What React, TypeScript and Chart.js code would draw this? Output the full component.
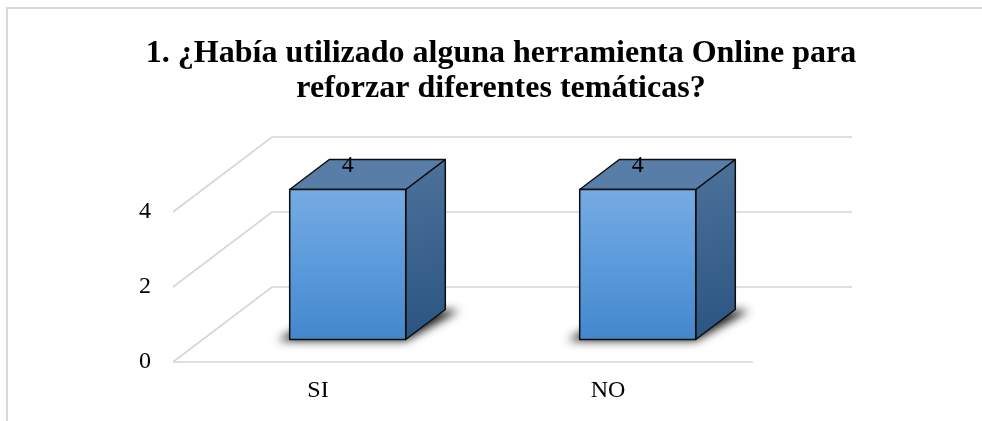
import React, { useEffect, useRef } from "react";
import { Chart, registerables } from "chart.js";

Chart.register(...registerables);

// Survey answers
const categories = ["SI", "NO"];
const answerCounts = [4, 4];
const yTicks = [0, 2, 4];
const titleLines = [
  "1. ¿Había utilizado alguna herramienta Online para",
  "reforzar diferentes temáticas?",
];

const SERIF = "'Liberation Serif', 'Times New Roman', serif";

// 3D look: how far the back wall sits behind the front plane
const DEPTH_X = 99;
const DEPTH_Y = 75;
const BAR_FRONT = 0.3; // fraction of depth where bar front face sits
const BAR_BACK = 0.7; // fraction of depth where bar back face sits
const GRID_COLOR = "#d6d6d6";

const box3d = {
  id: "box3d",
  beforeDatasetsDraw(chart: any) {
    const { ctx, chartArea } = chart;
    const y = chart.scales.y;
    const left = chartArea.left;
    const right = chartArea.right;
    ctx.save();
    ctx.strokeStyle = GRID_COLOR;
    ctx.lineWidth = 1.6;
    // left wall diagonals + back wall horizontals
    for (const v of yTicks) {
      const py = y.getPixelForValue(v);
      ctx.beginPath();
      ctx.moveTo(left, py);
      ctx.lineTo(left + DEPTH_X, py - DEPTH_Y);
      ctx.lineTo(right + DEPTH_X, py - DEPTH_Y);
      ctx.stroke();
    }
    // front floor edge
    const p0 = y.getPixelForValue(0);
    ctx.beginPath();
    ctx.moveTo(left, p0);
    ctx.lineTo(right, p0);
    ctx.stroke();
    ctx.restore();
  },
  afterDatasetsDraw(chart: any) {
    const { ctx } = chart;
    const meta = chart.getDatasetMeta(0);
    const values = chart.data.datasets[0].data;
    const fx = DEPTH_X * BAR_FRONT;
    const fy = DEPTH_Y * BAR_FRONT;
    const dx = DEPTH_X * (BAR_BACK - BAR_FRONT);
    const dy = DEPTH_Y * (BAR_BACK - BAR_FRONT);
    meta.data.forEach((bar: any, i: number) => {
      const { x, y, base, width } = bar.getProps(["x", "y", "base", "width"], true);
      const l = x - width / 2 + fx;
      const r = x + width / 2 + fx;
      const t = y - fy;
      const b = base - fy;

      // soft floor shadow: shape drawn off-canvas, only its blurred shadow lands here
      const off = 3000;
      ctx.save();
      ctx.shadowColor = "rgba(0,0,0,0.9)";
      ctx.shadowBlur = 10;
      ctx.shadowOffsetX = off;
      ctx.fillStyle = "#000";
      ctx.beginPath();
      ctx.moveTo(l - 12 - off, b + 1);
      ctx.lineTo(r - off, b + 1);
      ctx.lineTo(r + dx + 14 - off, b - dy + 1);
      ctx.lineTo(l + dx - off, b - dy);
      ctx.closePath();
      ctx.fill();
      ctx.restore();

      ctx.save();
      ctx.lineJoin = "round";
      ctx.strokeStyle = "#0d0d0d";
      ctx.lineWidth = 1.5;

      // side face
      const sg = ctx.createLinearGradient(r, t - dy, r + dx, b);
      sg.addColorStop(0, "#4d729b");
      sg.addColorStop(1, "#2a5481");
      ctx.fillStyle = sg;
      ctx.beginPath();
      ctx.moveTo(r, t);
      ctx.lineTo(r + dx, t - dy);
      ctx.lineTo(r + dx, b - dy);
      ctx.lineTo(r, b);
      ctx.closePath();
      ctx.fill();
      ctx.stroke();

      // top face
      ctx.fillStyle = "#587ea7";
      ctx.beginPath();
      ctx.moveTo(l, t);
      ctx.lineTo(l + dx, t - dy);
      ctx.lineTo(r + dx, t - dy);
      ctx.lineTo(r, t);
      ctx.closePath();
      ctx.fill();
      ctx.stroke();

      // front face
      const fg = ctx.createLinearGradient(0, t, 0, b);
      fg.addColorStop(0, "#76abe1");
      fg.addColorStop(0.5, "#5b9bdc");
      fg.addColorStop(1, "#4487cc");
      ctx.fillStyle = fg;
      ctx.beginPath();
      ctx.rect(l, t, r - l, b - t);
      ctx.fill();
      ctx.stroke();

      // value label
      ctx.fillStyle = "#000";
      ctx.font = `24px ${SERIF}`;
      ctx.textAlign = "center";
      ctx.textBaseline = "middle";
      ctx.fillText(String(values[i]), (l + r) / 2, t - 24);
      ctx.restore();
    });
  },
};

export default function App() {
  const ref = useRef<HTMLCanvasElement | null>(null);

  useEffect(() => {
    document.body.style.margin = "0";
    const chart = new Chart(ref.current as HTMLCanvasElement, {
      type: "bar",
      data: {
        labels: categories,
        datasets: [
          {
            data: answerCounts,
            backgroundColor: "rgba(0,0,0,0)",
            borderWidth: 0,
            categoryPercentage: 1,
            barPercentage: 0.4,
          },
        ],
      },
      options: {
        responsive: false,
        animation: false,
        events: [],
        layout: { padding: { left: 20, right: 0, top: 0, bottom: 0 } },
        plugins: {
          legend: { display: false },
          tooltip: { enabled: false },
          title: {
            display: true,
            text: titleLines,
            color: "#000",
            font: { family: SERIF, size: 32, weight: "bold", lineHeight: 1.1 },
            padding: { top: 36, bottom: 105.6 },
          },
        },
        scales: {
          x: {
            grid: { display: false, drawTicks: false },
            border: { display: false },
            ticks: {
              color: "#000",
              font: { family: SERIF, size: 24 },
              padding: 14,
            },
            afterFit: (s: any) => {
              s.height = 59;
            },
          },
          y: {
            min: 0,
            max: 4,
            grid: { display: false, drawTicks: false },
            border: { display: false },
            afterBuildTicks: (s: any) => {
              s.ticks = yTicks.map((v) => ({ value: v }));
            },
            ticks: {
              color: "#000",
              font: { family: SERIF, size: 24 },
              padding: 22,
            },
            afterFit: (s: any) => {
              s.width = 153;
            },
          },
          yRight: {
            position: "right",
            grid: { display: false },
            border: { display: false },
            ticks: { display: false },
            afterFit: (s: any) => {
              s.width = 229;
            },
          },
        },
      } as any,
      plugins: [box3d],
    });
    return () => chart.destroy();
  }, []);

  return (
    <div style={{ position: "relative", width: 982, height: 421, background: "#fff" }}>
      <canvas ref={ref} width={982} height={421} style={{ display: "block" }} />
      <div
        style={{
          position: "absolute",
          left: 6,
          top: 7,
          right: 0,
          bottom: 0,
          borderTop: "2px solid #d9d9d9",
          borderLeft: "2px solid #d9d9d9",
          pointerEvents: "none",
        }}
      />
    </div>
  );
}
